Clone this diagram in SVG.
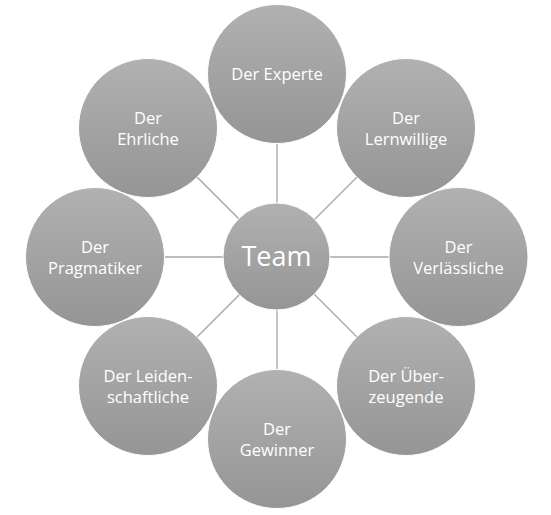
<svg xmlns="http://www.w3.org/2000/svg" width="551" height="515" viewBox="0 0 551 515">
  <defs>
    <linearGradient id="g" x1="0" y1="0" x2="0" y2="1">
      <stop offset="0" stop-color="#b1b1b1"/>
      <stop offset="1" stop-color="#959595"/>
    </linearGradient>
    <style>
      .c{fill:url(#g);stroke:#ffffff;stroke-width:1}
      .t{font-family:"Open Sans","Noto Sans","Liberation Sans",sans-serif;font-size:16.5px;fill:#ffffff;text-anchor:middle}
      .big{font-size:27px}
      .ln{stroke:#a6a6a6;stroke-width:1.3;fill:none}
    </style>
  </defs>
  <rect width="551" height="515" fill="#ffffff"/>
  <g id="connectors">
    <line class="ln" x1="277" y1="257" x2="277" y2="74"/>
    <line class="ln" x1="277" y1="257" x2="406" y2="128"/>
    <line class="ln" x1="277" y1="257" x2="459" y2="257"/>
    <line class="ln" x1="277" y1="257" x2="406" y2="386"/>
    <line class="ln" x1="277" y1="257" x2="277" y2="440"/>
    <line class="ln" x1="277" y1="257" x2="148" y2="386"/>
    <line class="ln" x1="277" y1="257" x2="95" y2="257"/>
    <line class="ln" x1="277" y1="257" x2="148" y2="128"/>
  </g>
  <g id="team">
    <circle class="c" cx="276.5" cy="256.5" r="53.5"/>
    <text class="t big" x="276.5" y="266">Team</text>
  </g>
  <g id="experte">
    <circle class="c" cx="277" cy="74" r="69.5"/>
    <text class="t" x="277" y="80">Der Experte</text>
  </g>
  <g id="lernwillige">
    <circle class="c" cx="406" cy="128" r="69.5"/>
    <text class="t" x="406" y="124">Der</text>
    <text class="t" x="406" y="145">Lernwillige</text>
  </g>
  <g id="verlaessliche">
    <circle class="c" cx="458.5" cy="257" r="69.5"/>
    <text class="t" x="458.5" y="253">Der</text>
    <text class="t" x="458.5" y="274">Verlässliche</text>
  </g>
  <g id="ueberzeugende">
    <circle class="c" cx="406" cy="386" r="69.5"/>
    <text class="t" x="406" y="382">Der Über-</text>
    <text class="t" x="406" y="403">zeugende</text>
  </g>
  <g id="gewinner">
    <circle class="c" cx="277" cy="439" r="69.5"/>
    <text class="t" x="277" y="435">Der</text>
    <text class="t" x="277" y="456">Gewinner</text>
  </g>
  <g id="leidenschaftliche">
    <circle class="c" cx="148" cy="386" r="69.5"/>
    <text class="t" x="148" y="382">Der Leiden-</text>
    <text class="t" x="148" y="403">schaftliche</text>
  </g>
  <g id="pragmatiker">
    <circle class="c" cx="95" cy="257" r="69.5"/>
    <text class="t" x="95" y="253">Der</text>
    <text class="t" x="95" y="274">Pragmatiker</text>
  </g>
  <g id="ehrliche">
    <circle class="c" cx="148" cy="128" r="69.5"/>
    <text class="t" x="148" y="124">Der</text>
    <text class="t" x="148" y="145">Ehrliche</text>
  </g>
</svg>
